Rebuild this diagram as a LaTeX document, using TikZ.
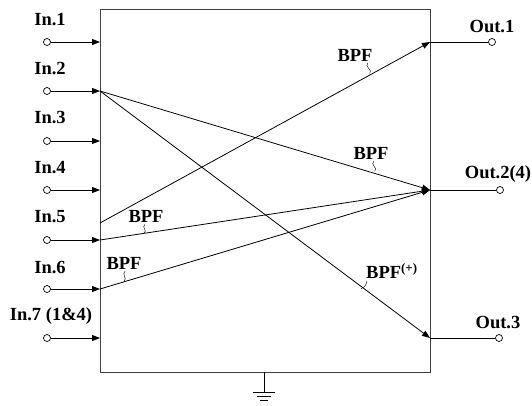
\documentclass[tikz,border=0pt]{standalone}
\usepackage{fontspec}
\setmainfont{Liberation Serif}
\usetikzlibrary{arrows.meta}
\begin{document}
\begin{tikzpicture}[x=1pt,y=-1pt,
  term/.style={circle,draw,fill=white,inner sep=0pt,minimum size=7pt,line width=0.7pt},
  lbl/.style={font=\bfseries\fontsize{18.5}{20}\selectfont,inner sep=0pt},
  flow/.style={line width=0.8pt,-{Triangle[length=8pt,width=6pt]}},
  wire/.style={line width=0.8pt},
  squig/.style={line width=0.45pt}]
\useasboundingbox (0,0) rectangle (532,405);
% box
\draw[line width=0.9pt,black!75] (100,9) rectangle (430,372);
% inputs
\foreach \i/\y in {1/42,2/91,3/141,4/190,5/240,6/289,7/338}{
  \node[term] (in\i) at (47,\y) {};
  \coordinate (b\i) at (100,\y);
  \draw[flow] (in\i) -- (b\i);
}
\node[lbl] (lin1) at (50,20) {In.1};
\node[lbl] (lin2) at (50,69) {In.2};
\node[lbl] (lin3) at (50,118) {In.3};
\node[lbl] (lin4) at (50,168) {In.4};
\node[lbl] (lin5) at (50,217) {In.5};
\node[lbl] (lin6) at (50,267) {In.6};
\node[lbl] (lin7) at (51,316) {In.7 (1\&4)};
% outputs
\coordinate (o1) at (430,42);
\coordinate (o2) at (430,190);
\coordinate (o3) at (430,338);
\node[term] (out1) at (492,42) {};
\node[term] (out2) at (500,190) {};
\node[term] (out3) at (499,338) {};
\draw[wire] (o1) -- (out1);
\draw[wire] (o2) -- (out2);
\draw[wire] (o3) -- (out3);
\node[lbl] (lout1) at (492,27) {Out.1};
\node[lbl] (lout2) at (498,174) {Out.2(4)};
\node[lbl] (lout3) at (498,322) {Out.3};
% internal connections
\coordinate (s5) at (100,223);
\draw[flow] (b2) -- (o2);
\draw[flow] (b2) -- (o3);
\draw[flow] (s5) -- (o1);
\draw[flow] (b5) -- (o2);
\draw[flow] (b6) -- (o2);
% BPF labels
\node[lbl] (f1) at (355,55) {BPF};
\node[lbl] (f2) at (371,153) {BPF};
\node[lbl,anchor=west] (f3) at (366,271) {BPF\textsuperscript{(+)}};
\node[lbl] (f4) at (146,216) {BPF};
\node[lbl] (f5) at (124,263) {BPF};
\draw[squig] (f1.south east)++(-5,2) .. controls +(-4,3) and +(4,-3) .. ++(2,10);
\draw[squig] (f2.south east)++(-15,2) .. controls +(-4,3) and +(4,-3) .. ++(1,10);
\draw[squig] (f3.south west)++(1,2) .. controls +(-1,5) and +(3,-1) .. ++(-6,8);
\draw[squig] (f4.south)++(-1,2) .. controls +(-4,3) and +(4,-3) .. ++(-1,9);
\draw[squig] (f5.south)++(1,2) .. controls +(-4,3) and +(4,-3) .. ++(-1,10);
% ground
\coordinate (g0) at (264,372);
\coordinate (g1) at (264,392);
\draw[wire] (g0) -- (g1);
\draw[wire] (253,392) -- (275,392);
\draw[wire] (257,396.5) -- (271,396.5);
\draw[wire] (260,400.5) -- (268,400.5);
\end{tikzpicture}
\end{document}
